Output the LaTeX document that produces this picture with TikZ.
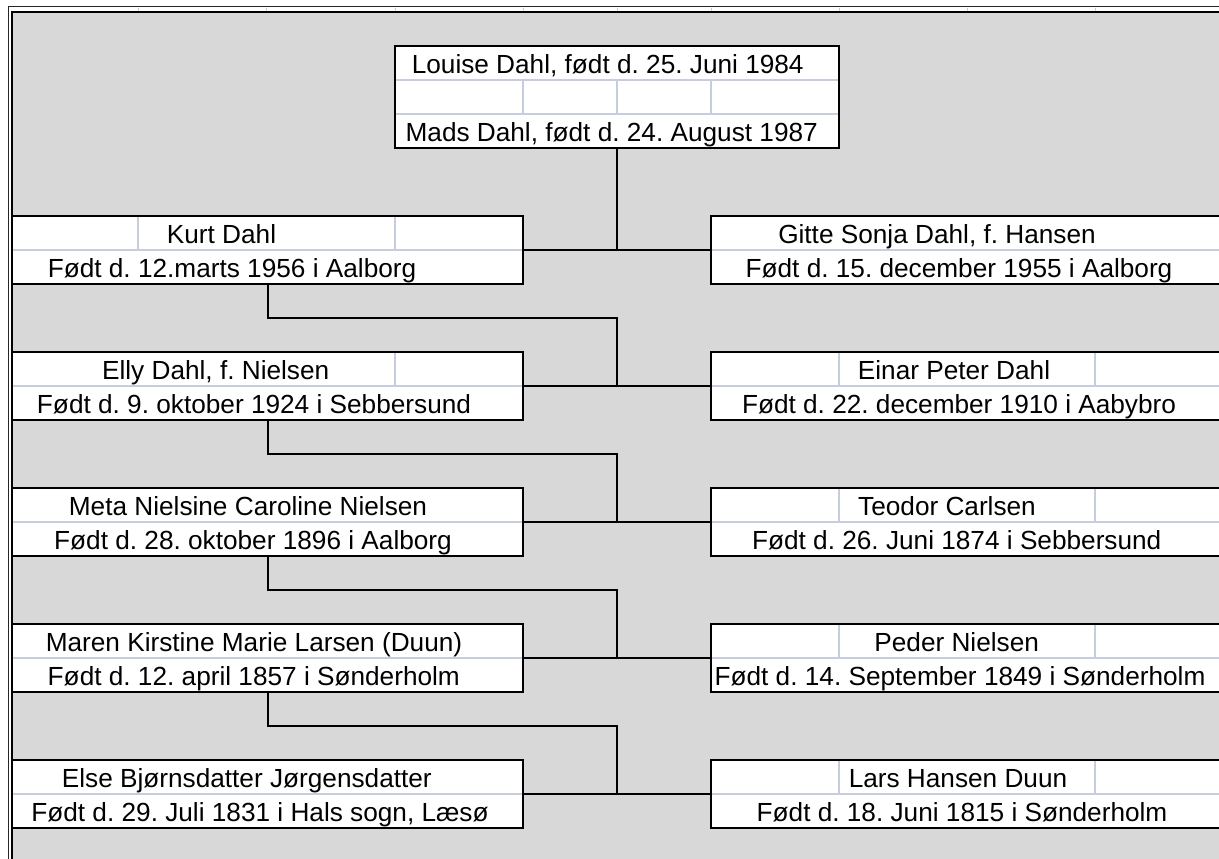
\documentclass[tikz,border=0pt]{standalone}
\usepackage{fontspec}
\setmainfont{Liberation Sans}
\usetikzlibrary{calc}
\frenchspacing
\definecolor{bggray}{RGB}{216,216,216}
\definecolor{gridc}{RGB}{198,206,222}
\begin{document}
\begin{tikzpicture}[x=1pt,y=-1pt,
  pbox/.style={draw=black,line width=2pt,fill=white,rectangle,inner sep=0pt,outer sep=0pt,anchor=north west},
  gline/.style={draw=gridc,line width=1.6pt,shorten <=1.2pt,shorten >=1.2pt},
  conn/.style={draw=black,line width=2pt},
  txt/.style={anchor=base,inner sep=0pt,font=\fontsize{26.2}{30}\selectfont}
]
\useasboundingbox (0,0) rectangle (1219,859);
\clip (0,0) rectangle (1219,859);
\fill[white] (0,0) rectangle (1219,859);
\fill[bggray] (12,12) rectangle (1219,859);
% frame
\draw[line width=1pt,black!85] (8,859) -- (8,7) -- (1219,7);
\draw[line width=2pt,black] (12,859) -- (12,12) -- (1219,12);
\foreach \cx in {138,266,395,523,617,711,839,967,1095}
  \draw[gridc,line width=1pt] (\cx,7.6) -- (\cx,11);

% boxes
\node[pbox,minimum width=444pt,minimum height=102pt] (top) at (395,46) {};
\foreach \nm/\ty in {kurt/216,elly/352,meta/488,maren/624,elsebox/760}
  \node[pbox,minimum width=511pt,minimum height=68pt] (\nm) at (12,\ty) {};
\foreach \nm/\ty in {gitte/216,einar/352,teodor/488,peder/624,lars/760}
  \node[pbox,minimum width=514pt,minimum height=68pt] (\nm) at (711,\ty) {};

% grid lines inside boxes
\draw[gline] (395,80) -- (839,80);
\draw[gline] (395,114) -- (839,114);
\foreach \cx in {523,617,711} \draw[gline] (\cx,80) -- (\cx,114);
\foreach \nm in {kurt,elly,meta,maren,elsebox,gitte,einar,teodor,peder,lars}
  \draw[gline] (\nm.west) -- (\nm.east);
\draw[gline] (138,216) -- (138,250);
\draw[gline] (395,216) -- (395,250);
\draw[gline] (395,352) -- (395,386);
\foreach \ty in {352,488,624,760} {
  \draw[gline] (839,\ty) -- (839,\ty+34);
  \draw[gline] (1095,\ty) -- (1095,\ty+34);
}

% texts
\node[txt] (t1) at (607.7,73.2) {Louise Dahl, født d. 25. Juni 1984};
\node[txt] (t2) at (611.7,141.2) {Mads Dahl, født d. 24. August 1987};

\node[txt] (kurtN) at (221.5,243) {Kurt Dahl};
\node[txt] (kurtB) at (232,277) {Født d. 12.marts 1956 i Aalborg};
\node[txt] (ellyN) at (215.7,379) {Elly Dahl, f. Nielsen};
\node[txt] (ellyB) at (254,413) {Født d. 9. oktober 1924 i Sebbersund};
\node[txt] (metaN) at (248,515) {Meta Nielsine Caroline Nielsen};
\node[txt] (metaB) at (253,549) {Født d. 28. oktober 1896 i Aalborg};
\node[txt] (marenN) at (254,651) {Maren Kirstine Marie Larsen (Duun)};
\node[txt] (marenB) at (253.8,685) {Født d. 12. april 1857 i Sønderholm};
\node[txt] (elseN) at (246.8,787) {Else Bjørnsdatter Jørgensdatter};
\node[txt] (elseB) at (260,821) {Født d. 29. Juli 1831 i Hals sogn, Læsø};

\node[txt] (gitteN) at (937,243) {Gitte Sonja Dahl, f. Hansen};
\node[txt] (gitteB) at (959,277) {Født d. 15. december 1955 i Aalborg};
\node[txt] (einarN) at (954,379) {Einar Peter Dahl};
\node[txt] (einarB) at (959,413) {Født d. 22. december 1910 i Aabybro};
\node[txt] (teodorN) at (947,515) {Teodor Carlsen};
\node[txt] (teodorB) at (956.7,549) {Født d. 26. Juni 1874 i Sebbersund};
\node[txt] (pederN) at (956.7,651) {Peder Nielsen};
\node[txt] (pederB) at (960,685) {Født d. 14. September 1849 i Sønderholm};
\node[txt] (larsN) at (958,787) {Lars Hansen Duun};
\node[txt] (larsB) at (962,821) {Født d. 18. Juni 1815 i Sønderholm};

% connectors
\draw[conn] (kurt.east) -- (gitte.west);
\draw[conn] (elly.east) -- (einar.west);
\draw[conn] (meta.east) -- (teodor.west);
\draw[conn] (maren.east) -- (peder.west);
\draw[conn] (elsebox.east) -- (lars.west);
\draw[conn] (top.south) -- (top.south |- kurt.east);

\coordinate (j1) at (617,318);
\coordinate (j2) at (617,454);
\coordinate (j3) at (617,590);
\coordinate (j4) at (617,726);
\draw[conn] (kurt.south) |- (j1) -- (j1 |- elly.east);
\draw[conn] (elly.south) |- (j2) -- (j2 |- meta.east);
\draw[conn] (meta.south) |- (j3) -- (j3 |- maren.east);
\draw[conn] (maren.south) |- (j4) -- (j4 |- elsebox.east);
\end{tikzpicture}
\end{document}
